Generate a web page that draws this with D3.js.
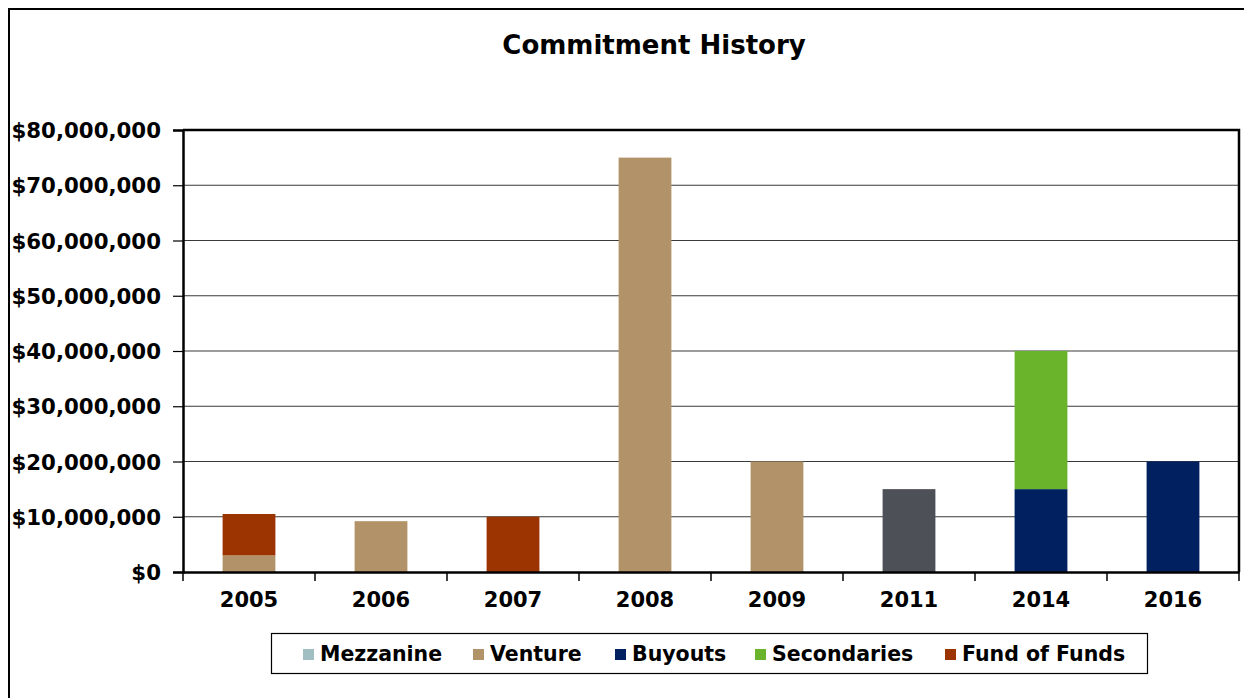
<!DOCTYPE html>
<html><head><meta charset="utf-8">
<script src="https://cdn.jsdelivr.net/npm/d3@7/dist/d3.min.js"></script>
<style>body{margin:0;background:#fff}svg{display:block}text{font-family:"DejaVu Sans",Verdana,sans-serif;font-weight:bold;fill:#000}</style>
</head><body><svg id="c" width="1244" height="698"></svg>
<script>
const categories = ["2005","2006","2007","2008","2009","2011","2014","2016"];
const seriesNames = ["Mezzanine","Venture","Buyouts","Secondaries","Fund of Funds","Other"];
const seriesColors = ["#a1bfc2","#b29369","#012060","#6ab42b","#9b3400","#4e5057"];
const legendNames = ["Mezzanine","Venture","Buyouts","Secondaries","Fund of Funds"];
const mezzanine   = [0,0,0,0,0,0,0,0];
const venture     = [3000000,9200000,0,75000000,20000000,0,0,0];
const buyouts     = [0,0,0,0,0,0,15000000,20000000];
const secondaries = [0,0,0,0,0,0,25000000,0];
const fundOfFunds = [7500000,0,10000000,0,0,0,0,0];
const other       = [0,0,0,0,0,15000000,0,0];
const yTicks = [0,10000000,20000000,30000000,40000000,50000000,60000000,70000000,80000000];
const title = "Commitment History";

const svg = d3.select("#c");
const L=183,R=1239,T=130,B=572;
// outer border
svg.append("rect").attr("x",9).attr("y",9).attr("width",1260).attr("height",720)
  .attr("fill","none").attr("stroke","#000").attr("stroke-width",2);
svg.append("text").attr("x",654).attr("y",54).attr("text-anchor","middle")
  .style("font-size","26px").text(title);

const x = d3.scaleBand().domain(categories).range([L,R]).paddingInner(0.6).paddingOuter(0.3);
const xb = d3.scaleBand().domain(categories).range([L,R]);
const y = d3.scaleLinear().domain([0,80000000]).range([B,T]);

// gridlines
svg.append("g").selectAll("line").data(yTicks.slice(1)).join("line")
  .attr("x1",L).attr("x2",R).attr("y1",d=>y(d)).attr("y2",d=>y(d))
  .attr("stroke","#3a3a3a").attr("stroke-width",1.2);

const rows = categories.map((c,i)=>{const o={cat:c};
  [mezzanine,venture,buyouts,secondaries,fundOfFunds,other].forEach((a,j)=>o[seriesNames[j]]=a[i]);return o;});
const stack = d3.stack().keys(seriesNames)(rows);
svg.append("g").selectAll("g").data(stack).join("g")
  .attr("fill",(d,i)=>seriesColors[i])
  .selectAll("rect").data(d=>d.filter(p=>p[1]-p[0]>0)).join("rect")
  .attr("x",d=>x(d.data.cat)).attr("width",x.bandwidth())
  .attr("y",d=>y(d[1])).attr("height",d=>y(d[0])-y(d[1]));

// frame top/right
svg.append("path").attr("d",`M${L},${T}H${R}V${B}`).attr("fill","none").attr("stroke","#000").attr("stroke-width",2.5);

// y axis
const ya = svg.append("g").attr("transform",`translate(${L},0)`)
  .call(d3.axisLeft(y).tickValues(yTicks).tickSize(10).tickPadding(12)
    .tickFormat(d=>"$"+d3.format(",")(d)));
ya.select(".domain").attr("stroke","#000").attr("stroke-width",2.5);
ya.selectAll(".tick line").attr("stroke","#000").attr("stroke-width",1.2);
ya.selectAll("text").style("font-size","21.3px").style("font-family",'"DejaVu Sans",sans-serif').attr("dy","0.36em");

// x axis
const xa = svg.append("g").attr("transform",`translate(0,${B})`)
  .call(d3.axisBottom(xb).tickSize(0).tickPadding(20));
xa.select(".domain").attr("stroke","#000").attr("stroke-width",2.5);
xa.selectAll("text").style("font-size","21px").style("font-family",'"DejaVu Sans",sans-serif');
svg.append("g").selectAll("line").data(categories.map(c=>xb(c)).concat([R])).join("line")
  .attr("x1",d=>d).attr("x2",d=>d).attr("y1",B).attr("y2",B+9).attr("stroke","#000").attr("stroke-width",1.5);

// legend
svg.append("rect").attr("x",271.5).attr("y",633.5).attr("width",876).attr("height",40)
  .attr("fill","#fff").attr("stroke","#000").attr("stroke-width",1.2);
const legX=[303,473,615,755,945];
const lg = svg.append("g").selectAll("g").data(legendNames).join("g")
  .attr("transform",(d,i)=>`translate(${legX[i]},654)`);
lg.append("rect").attr("x",0).attr("y",-5).attr("width",11).attr("height",11)
  .attr("fill",d=>seriesColors[seriesNames.indexOf(d)]);
lg.append("text").attr("x",17).attr("y",0).attr("dy","0.36em").style("font-size","20.5px").text(d=>d);
</script></body></html>
